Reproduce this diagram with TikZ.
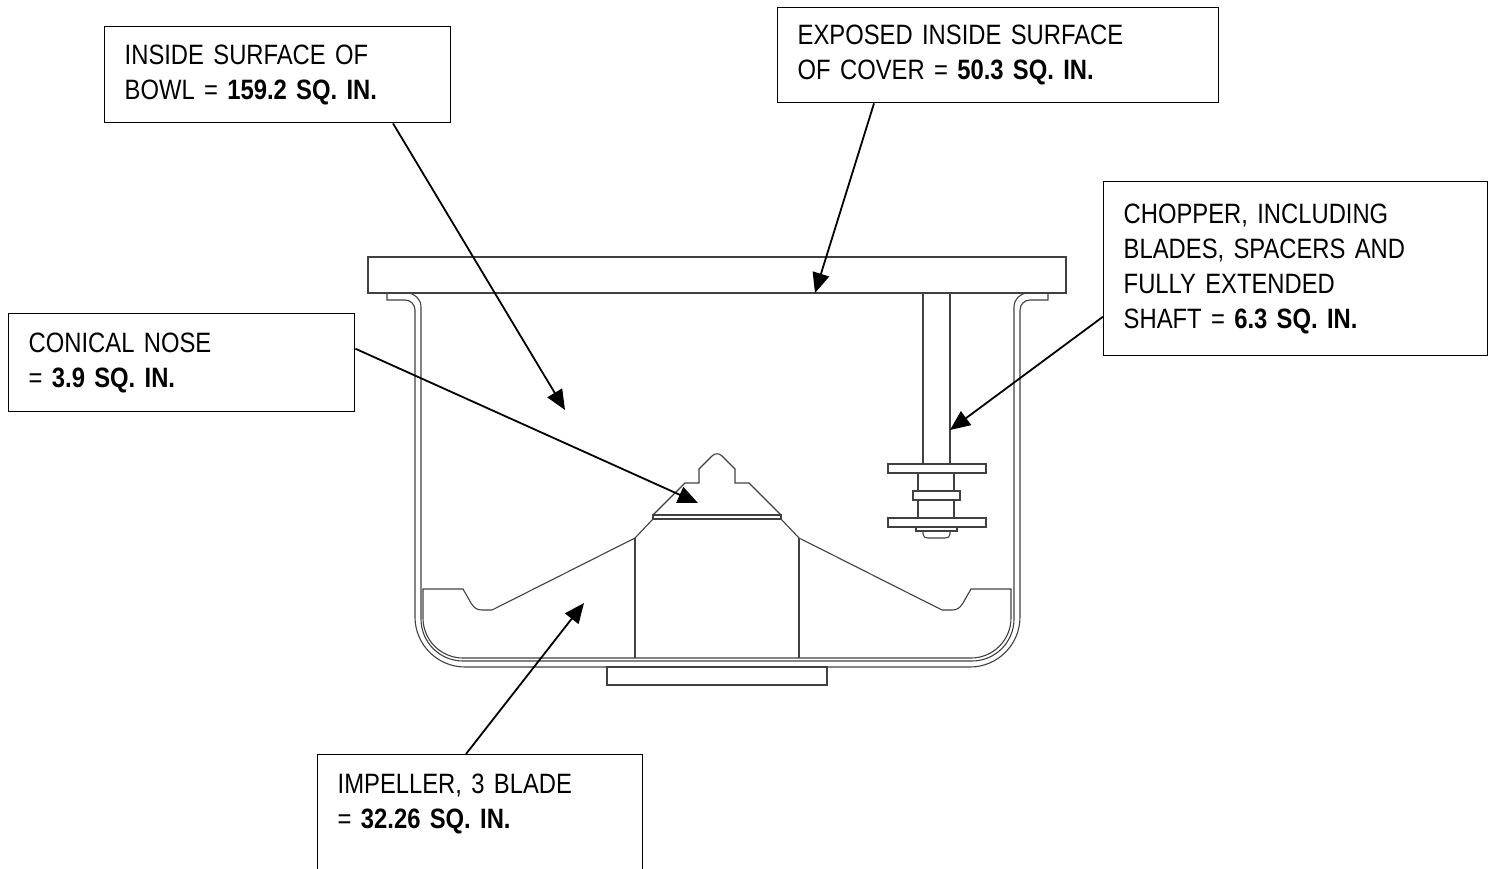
\documentclass[tikz,border=0pt]{standalone}
\usepackage{fontspec}
\setmainfont{Liberation Sans}[FakeStretch=0.85]
\usetikzlibrary{arrows.meta}

\begin{document}
\begin{tikzpicture}[x=1pt,y=-1pt,
    sketch/.style={draw=black!75,line width=1.1pt},
    callout/.style={draw,line width=1.4pt,anchor=north west,align=left,
      inner xsep=20pt,inner ysep=0pt,font=\fontsize{28}{35}\selectfont},
    leader/.style={line width=1.8pt,-{Triangle[length=20pt,width=17pt]}}]
  \clip (0,0) rectangle (1497,869);

  \draw[sketch] (368,257) rectangle (1066,293);
  \draw[sketch] (387,293) -- (387,300) -- (405,300)
    arc[start angle=270,end angle=360,radius=10] -- (415,617)
    arc[start angle=180,end angle=90,radius=50] -- (970,667)
    arc[start angle=90,end angle=0,radius=50] -- (1020,310)
    arc[start angle=180,end angle=270,radius=10] -- (1048,300) -- (1048,293);
  \draw[sketch] (407,293)
    arc[start angle=270,end angle=360,radius=14] -- (421,619)
    arc[start angle=180,end angle=90,radius=42] -- (972,661)
    arc[start angle=90,end angle=0,radius=42] -- (1014,307)
    arc[start angle=180,end angle=270,radius=14];
  \draw[sketch] (607,667) rectangle (827,685);

  \draw[sketch] (423,589) -- (463,589) -- (471,603)
    .. controls (474,608) and (477,610) .. (482,610) -- (492,610)
    -- (635,538) -- (653,519) -- (781,519) -- (799,538) -- (942,610) -- (952,610)
    .. controls (957,610) and (960,608) .. (963,603) -- (971,589) -- (1011,589)
    -- (1011,618) arc[start angle=0,end angle=90,radius=40] -- (463,658)
    arc[start angle=90,end angle=180,radius=40] -- cycle;
  \draw[sketch] (635,538) -- (635,658) (799,538) -- (799,658);
  \draw[sketch] (653,515) rectangle (781,519);
  \draw[sketch] (653,515) -- (685,483) -- (699,483) -- (699,469) -- (712,456)
    .. controls (715,453) and (719,453) .. (722,456)
    -- (735,469) -- (735,483) -- (749,483) -- (781,515);

  \draw[sketch] (923,293) -- (923,464) (950,293) -- (950,464);
  \draw[sketch] (888,464) rectangle (986,473);
  \draw[sketch] (918,473) -- (918,491) (954,473) -- (954,491);
  \draw[sketch] (913,491) rectangle (960,500);
  \draw[sketch] (918,500) -- (918,518) (954,500) -- (954,518);
  \draw[sketch] (888,518) rectangle (986,527);
  \draw[sketch] (916,527) rectangle (957,531);
  \draw[sketch] (923,531) -- (923,534) .. controls (923,537) and (925,538) .. (928,538)
    -- (945,538) .. controls (948,538) and (950,537) .. (950,534) -- (950,531);

  \node[callout,text width=306pt,minimum height=96pt] (bowlbox) at (104,26)
    {INSIDE SURFACE OF\\BOWL = \textbf{159.2 SQ. IN.}};
  \node[callout,text width=401pt,minimum height=95pt] (coverbox) at (777,7)
    {EXPOSED INSIDE SURFACE\\OF COVER = \textbf{50.3 SQ. IN.}};
  \node[callout,text width=344pt,minimum height=174pt] (chopbox) at (1103,181)
    {CHOPPER, INCLUDING\\BLADES, SPACERS AND\\FULLY EXTENDED\\SHAFT = \textbf{6.3 SQ. IN.}};
  \node[callout,text width=306pt,minimum height=98pt] (nosebox) at (8,313)
    {CONICAL NOSE\\= \textbf{3.9 SQ. IN.}};
  \node[callout,text width=285pt,inner ysep=19pt,text height=20pt,text depth=110pt] (implbox) at (317,754)
    {IMPELLER, 3 BLADE\\= \textbf{32.26 SQ. IN.}};

  \coordinate (bowltip) at (565,410);
  \coordinate (covertip) at (815,293);
  \coordinate (choptip) at (950,430);
  \coordinate (nosetip) at (698,503);
  \coordinate (impltip) at (584,603);

  \draw[leader] ([xshift=289pt]bowlbox.south west) -- (bowltip);
  \draw[leader] ([xshift=97pt]coverbox.south west) -- (covertip);
  \draw[leader] ([yshift=-48pt]chopbox.west) -- (choptip);
  \draw[leader] ([yshift=14pt]nosebox.east) -- (nosetip);
  \draw[leader] ([xshift=149pt]implbox.north west) -- (impltip);
\end{tikzpicture}
\end{document}
